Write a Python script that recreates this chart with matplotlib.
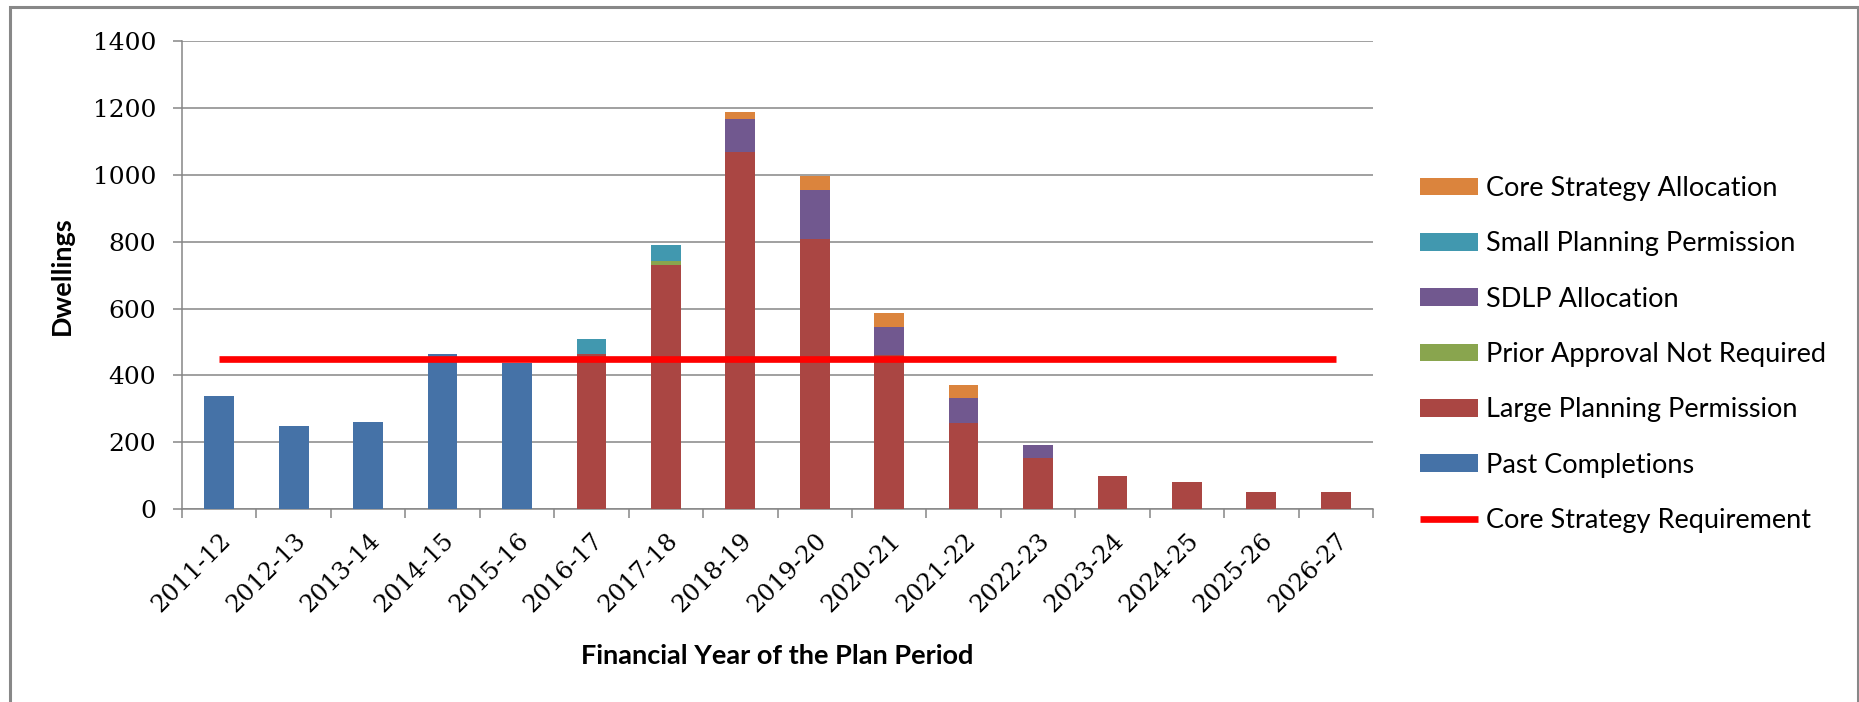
import numpy as np
import matplotlib.pyplot as plt
from matplotlib.patches import Rectangle

years = ["2011-12", "2012-13", "2013-14", "2014-15", "2015-16", "2016-17", "2017-18", "2018-19",
         "2019-20", "2020-21", "2021-22", "2022-23", "2023-24", "2024-25", "2025-26", "2026-27"]

past_completions = [339, 249, 261, 464, 437, 0, 0, 0, 0, 0, 0, 0, 0, 0, 0, 0]
large_pp = [0, 0, 0, 0, 0, 463, 729, 1070, 808, 462, 257, 154, 99, 81, 51, 51]
prior_approval = [0, 0, 0, 0, 0, 0, 13, 0, 0, 0, 0, 0, 0, 0, 0, 0]
sdlp = [0, 0, 0, 0, 0, 0, 0, 97, 147, 83, 75, 38, 0, 0, 0, 0]
small_pp = [0, 0, 0, 0, 0, 47, 48, 0, 0, 0, 0, 0, 0, 0, 0, 0]
core_alloc = [0, 0, 0, 0, 0, 0, 0, 21, 42, 42, 39, 0, 0, 0, 0, 0]
requirement = 450

series = [
    ("Past Completions", past_completions, "#4572A7"),
    ("Large Planning Permission", large_pp, "#AA4643"),
    ("Prior Approval Not Required", prior_approval, "#89A54E"),
    ("SDLP Allocation", sdlp, "#71588F"),
    ("Small Planning Permission", small_pp, "#4198AF"),
    ("Core Strategy Allocation", core_alloc, "#DB843D"),
]

fig = plt.figure(figsize=(18.59, 7.02), dpi=100)
ax = fig.add_axes([182 / 1859, 1 - 509 / 702, (1373 - 182) / 1859, (509 - 41.3) / 702])

x = np.arange(len(years))
bottom = np.zeros(len(years))
handles = {}
for name, vals, col in series:
    vals = np.array(vals, dtype=float)
    b = ax.bar(x, vals, 0.4, bottom=bottom, color=col, label=name, zorder=3)
    handles[name] = b
    bottom += vals

line, = ax.plot([x[0], x[-1]], [requirement, requirement], color="#FF0000", lw=4.8, zorder=4,
                solid_capstyle="butt", label="Core Strategy Requirement")

ax.set_xlim(-0.5, len(years) - 0.5)
ax.set_ylim(0, 1400)
ax.set_yticks(np.arange(0, 1401, 200))
ax.yaxis.grid(True, color="#868686", lw=1.1, zorder=0)
for s in ["top", "right"]:
    ax.spines[s].set_visible(False)
for s in ["left", "bottom"]:
    ax.spines[s].set_color("#868686")
    ax.spines[s].set_linewidth(1.1)

ax.set_xticks(x)
ax.set_xticks(np.arange(-0.5, len(years), 1), minor=True)
ax.set_xticklabels(years, rotation=45, ha="right", rotation_mode="anchor",
                   family="DejaVu Serif", fontsize=17.5)
ax.tick_params(axis="x", which="major", length=0, pad=14)
ax.tick_params(axis="x", which="minor", length=6.5, color="#868686", width=1.1)
ax.tick_params(axis="y", length=6.5, color="#868686", width=1.1, pad=12, labelsize=18)
for t in ax.get_yticklabels():
    t.set_family("DejaVu Serif")

ax.set_ylabel("Dwellings", family="Lato", fontweight="bold", fontsize=19.5, labelpad=14)
ax.set_xlabel("Financial Year of the Plan Period", family="Lato", fontweight="bold", fontsize=19.5,
              labelpad=20)

order = ["Core Strategy Allocation", "Small Planning Permission", "SDLP Allocation",
         "Prior Approval Not Required", "Large Planning Permission", "Past Completions"]
leg = fig.legend([handles[n] for n in order] + [line], order + ["Core Strategy Requirement"],
                 loc="upper left", bbox_to_anchor=(1420 / 1859, 1 - 176 / 702), frameon=False,
                 prop={"family": "Lato", "size": 19.5}, handlelength=2.15, handleheight=0.63,
                 handletextpad=0.3, labelspacing=1.12, borderaxespad=0, borderpad=0)

fig.add_artist(Rectangle((10 / 1859, -0.1), (1857.5 - 10) / 1859, 1.1 - 6.5 / 702,
                         transform=fig.transFigure, fill=False, edgecolor="#888888", lw=2.2))

fig.savefig("out.png", dpi=100)
